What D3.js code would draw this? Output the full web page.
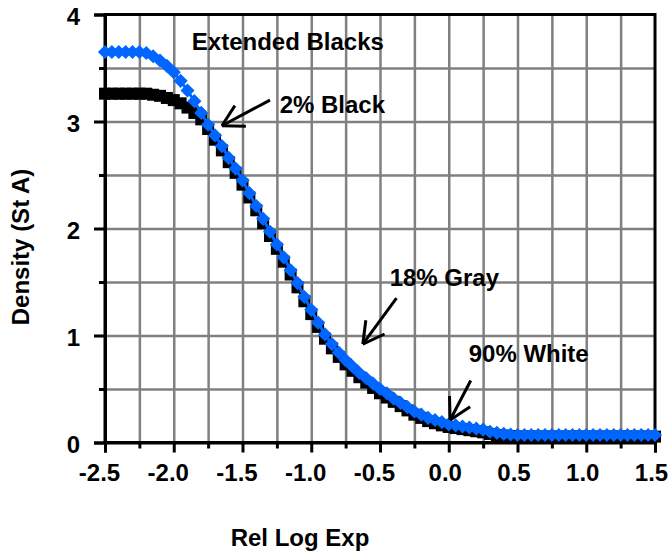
<!DOCTYPE html>
<html>
<head>
<meta charset="utf-8">
<script src="https://cdn.jsdelivr.net/npm/d3@7"></script>
<style>
  body { margin: 0; background: #fff; }
  svg { display: block; font-family: "Liberation Sans", Arial, sans-serif; font-weight: bold; }
</style>
</head>
<body>
<div id="chart"></div>
<script>
// Rel log exposure sample points
const logExp = [-2.5, -2.45, -2.4, -2.35, -2.3, -2.25, -2.2, -2.15, -2.1, -2.05,
  -2.0, -1.95, -1.9, -1.85, -1.8, -1.75, -1.7, -1.65, -1.6, -1.55,
  -1.5, -1.45, -1.4, -1.35, -1.3, -1.25, -1.2, -1.15, -1.1, -1.05,
  -1.0, -0.95, -0.9, -0.85, -0.8, -0.75, -0.7, -0.65, -0.6, -0.55,
  -0.5, -0.45, -0.4, -0.35, -0.3, -0.25, -0.2, -0.15, -0.1, -0.05,
  0.0, 0.05, 0.1, 0.15, 0.2, 0.25, 0.3, 0.35, 0.4, 0.45,
  0.5, 0.55, 0.6, 0.65, 0.7, 0.75, 0.8, 0.85, 0.9, 0.95,
  1.0, 1.05, 1.1, 1.15, 1.2, 1.25, 1.3, 1.35, 1.4, 1.45, 1.5];

// Standard curve (black squares)
const standardDensity = [3.26, 3.26, 3.26, 3.26, 3.26, 3.26, 3.26, 3.25, 3.24, 3.22,
  3.20, 3.17, 3.13, 3.08, 3.02, 2.93, 2.83, 2.73, 2.62, 2.52,
  2.41, 2.29, 2.17, 2.05, 1.93, 1.81, 1.69, 1.57, 1.45, 1.32,
  1.20, 1.08, 0.97, 0.88, 0.80, 0.73, 0.67, 0.61, 0.56, 0.51,
  0.46, 0.42, 0.38, 0.34, 0.30, 0.26, 0.23, 0.20, 0.18, 0.16,
  0.145, 0.135, 0.125, 0.115, 0.105, 0.095, 0.08, 0.07, 0.065, 0.06,
  0.055, 0.055, 0.055, 0.055, 0.055, 0.055, 0.055, 0.055, 0.055, 0.055,
  0.055, 0.055, 0.055, 0.055, 0.055, 0.055, 0.055, 0.055, 0.055, 0.055, 0.055];

// Extended blacks curve (blue diamonds)
const extendedDensity = [3.65, 3.65, 3.65, 3.65, 3.65, 3.65, 3.64, 3.61, 3.57, 3.52,
  3.46, 3.38, 3.29, 3.19, 3.08, 2.97, 2.87, 2.77, 2.66, 2.56,
  2.45, 2.33, 2.21, 2.09, 1.97, 1.85, 1.73, 1.61, 1.49, 1.36,
  1.24, 1.12, 1.01, 0.92, 0.84, 0.77, 0.71, 0.65, 0.60, 0.55,
  0.50, 0.46, 0.41, 0.37, 0.33, 0.29, 0.26, 0.23, 0.21, 0.19,
  0.17, 0.16, 0.15, 0.14, 0.13, 0.12, 0.10, 0.09, 0.08, 0.075,
  0.07, 0.07, 0.07, 0.07, 0.07, 0.07, 0.07, 0.07, 0.07, 0.07,
  0.07, 0.07, 0.07, 0.07, 0.07, 0.07, 0.07, 0.07, 0.07, 0.07, 0.07];

const xTicks = [-2.5, -2.0, -1.5, -1.0, -0.5, 0.0, 0.5, 1.0, 1.5];
const yTicks = [0, 1, 2, 3, 4];

// Text labels (data units)
const labels = [
  { text: 'Extended Blacks', x: -1.17, y: 3.67, anchor: 'middle' },
  { text: '2% Black', x: -1.23, y: 3.08, anchor: 'start' },
  { text: '18% Gray', x: -0.43, y: 1.46, anchor: 'start' },
  { text: '90% White', x: 0.145, y: 0.755, anchor: 'start' }
];

// Arrows: start point and tip (data units)
const arrows = [
  { from: [-1.30, 3.20], to: [-1.65, 2.96] },
  { from: [-0.38, 1.35], to: [-0.625, 0.92] },
  { from: [0.16, 0.58], to: [0.01, 0.21] }
];

const svgWidth = 669, svgHeight = 554;
const margin = { top: 14.5, right: 14, bottom: 111.5, left: 105 };
const chartWidth = svgWidth - margin.left - margin.right;
const chartHeight = svgHeight - margin.top - margin.bottom;

const svg = d3.select('#chart').append('svg')
  .attr('width', svgWidth)
  .attr('height', svgHeight);

const chart = svg.append('g')
  .attr('transform', `translate(${margin.left}, ${margin.top})`);

const xScale = d3.scaleLinear().domain([-2.5, 1.5]).range([0, chartWidth]);
const yScale = d3.scaleLinear().domain([0, 4]).range([chartHeight, 0]);

// Gridlines
chart.append('g')
  .call(d3.axisBottom(xScale).tickValues(d3.range(-2.25, 1.5, 0.25)).tickSize(chartHeight).tickFormat(''))
  .call(g => g.select('.domain').remove())
  .selectAll('line').attr('stroke', '#808080').attr('stroke-width', 2.5);

chart.append('g')
  .call(d3.axisLeft(yScale).tickValues(d3.range(0.5, 4, 0.5)).tickSize(-chartWidth).tickFormat(''))
  .call(g => g.select('.domain').remove())
  .selectAll('line').attr('stroke', '#808080').attr('stroke-width', 2.5);

// Minor ticks
chart.append('g')
  .attr('transform', `translate(0, ${chartHeight})`)
  .call(d3.axisBottom(xScale).tickValues(d3.range(-2.25, 1.5, 0.5)).tickSize(6).tickFormat(''))
  .call(g => g.select('.domain').remove())
  .selectAll('line').attr('stroke', '#000').attr('stroke-width', 3);

chart.append('g')
  .call(d3.axisLeft(yScale).tickValues(d3.range(0.5, 4, 1)).tickSize(6).tickFormat(''))
  .call(g => g.select('.domain').remove())
  .selectAll('line').attr('stroke', '#000').attr('stroke-width', 3);

// Plot frame
chart.append('rect')
  .attr('width', chartWidth)
  .attr('height', chartHeight)
  .attr('fill', 'none')
  .attr('stroke', '#000')
  .attr('stroke-width', 3);

// Major axes
const xAxis = chart.append('g')
  .attr('transform', `translate(0, ${chartHeight})`)
  .call(d3.axisBottom(xScale).tickValues(xTicks).tickSize(10).tickPadding(11).tickFormat(d3.format('.1f')));

const yAxis = chart.append('g')
  .call(d3.axisLeft(yScale).tickValues(yTicks).tickSize(11).tickPadding(14).tickFormat(d3.format('d')));

[xAxis, yAxis].forEach(ax => {
  ax.select('.domain').attr('stroke', '#000').attr('stroke-width', 3);
  ax.selectAll('line').attr('stroke', '#000').attr('stroke-width', 3);
  ax.selectAll('text')
    .attr('fill', '#000')
    .style('font-size', '24px')
    .style('font-weight', 'bold')
    .style('font-family', '"Liberation Sans", Arial, sans-serif');
});
yAxis.selectAll('text').attr('dy', '0.4em');
xAxis.selectAll('text').attr('dx', d => d < 0 ? -6 : -4).text(d => d3.format('.1f')(d).replace('−', '-'));

// Series
const standard = logExp.map((x, i) => ({ x, y: standardDensity[i] }));
const extended = logExp.map((x, i) => ({ x, y: extendedDensity[i] }));

const line = d3.line().x(d => xScale(d.x)).y(d => yScale(d.y));

chart.append('path')
  .datum(standard)
  .attr('d', line)
  .attr('fill', 'none')
  .attr('stroke', '#000')
  .attr('stroke-width', 3);

chart.selectAll('.sq')
  .data(standard)
  .enter()
  .append('rect')
  .attr('class', 'sq')
  .attr('x', d => xScale(d.x) - 6)
  .attr('y', d => yScale(d.y) - 6)
  .attr('width', 12)
  .attr('height', 12)
  .attr('fill', '#000');

chart.append('path')
  .datum(extended)
  .attr('d', line)
  .attr('fill', 'none')
  .attr('stroke', '#0066ff')
  .attr('stroke-width', 3);

const diamond = d3.symbol().type(d3.symbolSquare).size(100);
chart.selectAll('.dm')
  .data(extended)
  .enter()
  .append('path')
  .attr('class', 'dm')
  .attr('d', diamond)
  .attr('transform', d => `translate(${xScale(d.x)}, ${yScale(d.y)}) rotate(45)`)
  .attr('fill', '#0066ff');

// Annotations
chart.selectAll('.label')
  .data(labels)
  .enter()
  .append('text')
  .attr('class', 'label')
  .attr('x', d => xScale(d.x))
  .attr('y', d => yScale(d.y))
  .attr('text-anchor', d => d.anchor)
  .style('font-size', '24px')
  .text(d => d.text);

const arrowG = chart.append('g')
  .attr('stroke', '#000')
  .attr('stroke-width', 3)
  .attr('fill', 'none');

arrows.forEach(a => {
  const x1 = xScale(a.from[0]), y1 = yScale(a.from[1]);
  const x2 = xScale(a.to[0]), y2 = yScale(a.to[1]);
  const ang = Math.atan2(y1 - y2, x1 - x2);
  const len = 24, spread = 29 * Math.PI / 180;
  arrowG.append('line').attr('x1', x1).attr('y1', y1).attr('x2', x2).attr('y2', y2);
  [-spread, spread].forEach(s => {
    arrowG.append('line')
      .attr('x1', x2).attr('y1', y2)
      .attr('x2', x2 + len * Math.cos(ang + s))
      .attr('y2', y2 + len * Math.sin(ang + s));
  });
});

// X axis label
svg.append('text')
  .attr('x', 300)
  .attr('y', 546)
  .attr('text-anchor', 'middle')
  .style('font-size', '24px')
  .text('Rel Log Exp');

// Y axis label
svg.append('text')
  .attr('transform', 'rotate(-90)')
  .attr('x', -247)
  .attr('y', 29)
  .attr('text-anchor', 'middle')
  .style('font-size', '24px')
  .text('Density (St A)');
</script>
</body>
</html>
